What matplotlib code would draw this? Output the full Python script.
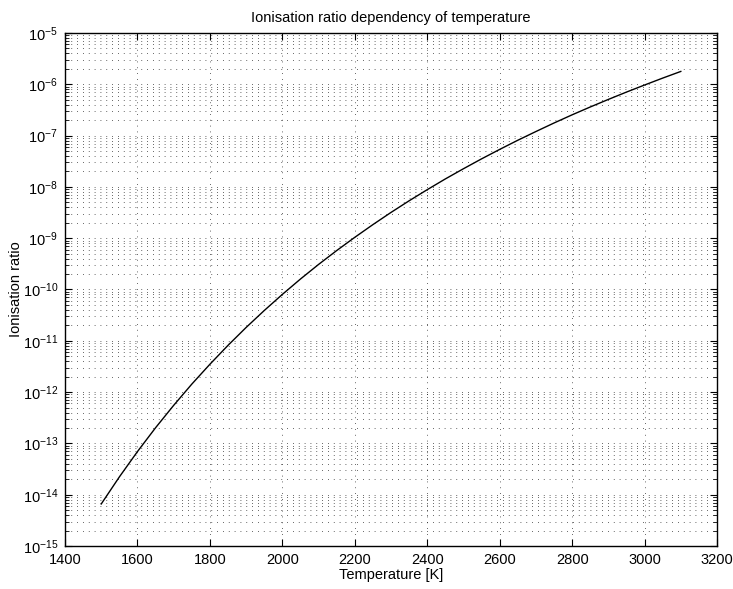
import matplotlib
matplotlib.use("Agg")
import matplotlib.pyplot as plt
from matplotlib.ticker import LogLocator, NullFormatter, MultipleLocator

# Temperature [K] and ionisation ratio
temperature = [1500, 1550, 1600, 1650, 1700, 1750, 1800, 1850, 1900, 1950,
               2000, 2050, 2100, 2150, 2200, 2250, 2300, 2350, 2400, 2450,
               2500, 2550, 2600, 2650, 2700, 2750, 2800, 2850, 2900, 2950,
               3000, 3050, 3100]
ionisation = [6.60e-15, 2.22e-14, 6.93e-14, 2.02e-13, 5.52e-13, 1.43e-12,
              3.49e-12, 8.15e-12, 1.82e-11, 3.89e-11, 8.02e-11, 1.60e-10,
              3.08e-10, 5.74e-10, 1.04e-9, 1.84e-9, 3.18e-9, 5.36e-9,
              8.83e-9, 1.43e-8, 2.26e-8, 3.52e-8, 5.38e-8, 8.11e-8,
              1.20e-7, 1.76e-7, 2.54e-7, 3.61e-7, 5.07e-7, 7.05e-7,
              9.68e-7, 1.32e-6, 1.78e-6]

plt.rc('font', family=['Liberation Sans', 'DejaVu Sans'])
plt.rc('font', size=10.5)

fig = plt.figure(figsize=(7.33, 5.89), dpi=100)
ax = fig.add_axes([0.0887, 0.073, 0.8895, 0.871])

ax.semilogy(temperature, ionisation, color="black", linewidth=1)

ax.set_xlim(1400, 3200)
ax.set_ylim(1e-15, 1e-5)
ax.xaxis.set_major_locator(MultipleLocator(200))
ax.yaxis.set_major_locator(LogLocator(base=10, numticks=20))
ax.yaxis.set_minor_locator(LogLocator(base=10, subs=range(2, 10), numticks=20))
ax.yaxis.set_minor_formatter(NullFormatter())

# MATLAB-style dotted grid
grid_style = dict(color="black", linestyle=(0, (1, 6)), linewidth=0.6, alpha=0.8)
ax.grid(True, which="major", axis="both", **grid_style)
ax.grid(True, which="minor", axis="y", **grid_style)

ax.tick_params(which="both", direction="in", top=True, right=True, labelsize=10.5, pad=5)
ax.tick_params(which="major", length=5, width=0.8)
ax.tick_params(which="minor", length=3, width=0.6)
for spine in ax.spines.values():
    spine.set_linewidth(1)

ax.set_title("Ionisation ratio dependency of temperature", fontsize=10.5, pad=8)
ax.set_xlabel("Temperature [K]", labelpad=1)
ax.set_ylabel("Ionisation ratio", labelpad=0)

fig.savefig("out.png", dpi=100)
